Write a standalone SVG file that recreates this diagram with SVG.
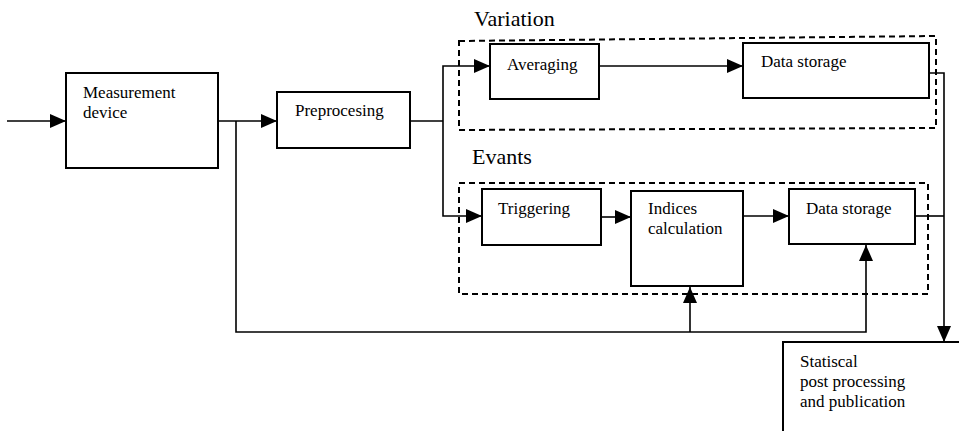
<svg xmlns="http://www.w3.org/2000/svg" width="959" height="431" viewBox="0 0 959 431">
<style>
.box{fill:#fff;stroke:#000;stroke-width:2}
.grp{fill:none;stroke:#000;stroke-width:2;stroke-dasharray:6 4}
.ln{fill:none;stroke:#000;stroke-width:1.6}
.t{font-family:"Liberation Serif","Times New Roman",serif;font-size:17px;fill:#000}
.big{font-family:"Liberation Serif","Times New Roman",serif;font-size:22px;fill:#000}
</style>
<defs>
<marker id="ah" markerUnits="userSpaceOnUse" markerWidth="16" markerHeight="14" refX="16" refY="7" orient="auto">
<path d="M0,0 L16,7 L0,14 z" fill="#000"/>
</marker>
</defs>
<rect width="959" height="431" fill="#fff"/>
<g id="groups">
<polygon class="grp" points="459,41 936,36 936,128 459,130"/>
<text class="big" x="474" y="26">Variation</text>
<rect class="grp" x="459" y="183" width="469" height="111"/>
<text class="big" x="472" y="164">Evants</text>
</g>
<g id="connectors">
<path class="ln" d="M7,121 H66" marker-end="url(#ah)"/>
<path class="ln" d="M218,121 H277" marker-end="url(#ah)"/>
<path class="ln" d="M236,121 V332 H866 V245" marker-end="url(#ah)"/>
<path class="ln" d="M690,332 V287" marker-end="url(#ah)"/>
<path class="ln" d="M410,121 H443"/>
<path class="ln" d="M443,121 V66 H490" marker-end="url(#ah)"/>
<path class="ln" d="M443,121 V216 H482" marker-end="url(#ah)"/>
<path class="ln" d="M599,66 H743" marker-end="url(#ah)"/>
<path class="ln" d="M601,217 H631" marker-end="url(#ah)"/>
<path class="ln" d="M743,216 H789" marker-end="url(#ah)"/>
<path class="ln" d="M929,73 H944 V342" marker-end="url(#ah)"/>
<path class="ln" d="M915,216 H944"/>
</g>
<g id="measurement">
<rect class="box" x="66" y="73" width="152" height="95"/>
<text class="t" x="83" y="98">Measurement</text>
<text class="t" x="83" y="118">device</text>
</g>
<g id="preprocesing">
<rect class="box" x="277" y="92" width="133" height="56"/>
<text class="t" x="295" y="116">Preprocesing</text>
</g>
<g id="averaging">
<rect class="box" x="490" y="44" width="109" height="55"/>
<text class="t" x="507" y="70">Averaging</text>
</g>
<g id="datastorage1">
<rect class="box" x="743" y="43" width="186" height="55"/>
<text class="t" x="761" y="67">Data storage</text>
</g>
<g id="triggering">
<rect class="box" x="482" y="189" width="119" height="56"/>
<text class="t" x="498" y="214">Triggering</text>
</g>
<g id="indices">
<rect class="box" x="631" y="191" width="112" height="95"/>
<text class="t" x="648" y="214">Indices</text>
<text class="t" x="648" y="234">calculation</text>
</g>
<g id="datastorage2">
<rect class="box" x="789" y="189" width="126" height="55"/>
<text class="t" x="806" y="214">Data storage</text>
</g>
<g id="statistical">
<rect class="box" x="783" y="342" width="200" height="110"/>
<text class="t" x="800" y="367">Statiscal</text>
<text class="t" x="800" y="387">post processing</text>
<text class="t" x="800" y="407">and publication</text>
</g>
</svg>
